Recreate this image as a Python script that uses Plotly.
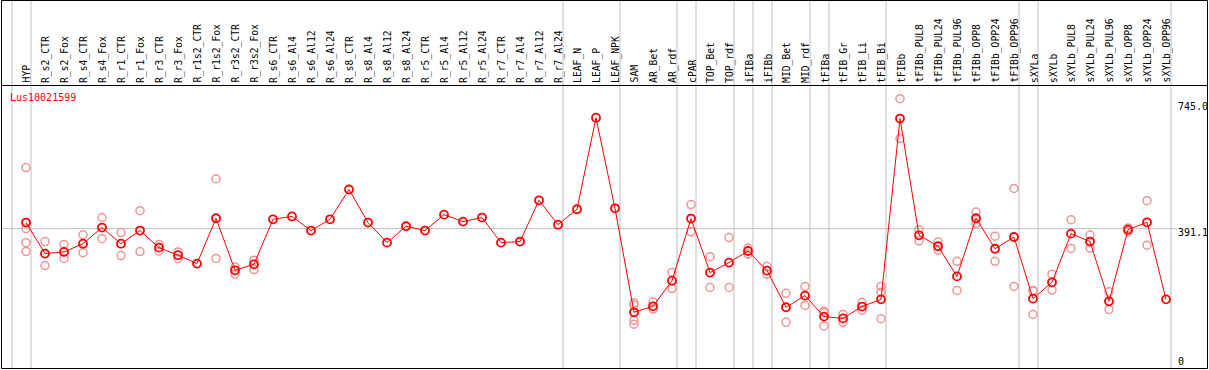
import plotly.graph_objects as go

W, H = 1209, 370

title = "Lus10021599"
categories = ["HYP", "R_s2_CTR", "R_s2_Fox", "R_s4_CTR", "R_s4_Fox", "R_r1_CTR", "R_r1_Fox",
              "R_r3_CTR", "R_r3_Fox", "R_r1s2_CTR", "R_r1s2_Fox", "R_r3s2_CTR", "R_r3s2_Fox",
              "R_s6_CTR", "R_s6_Al4", "R_s6_Al12", "R_s6_Al24", "R_s8_CTR", "R_s8_Al4", "R_s8_Al12",
              "R_s8_Al24", "R_r5_CTR", "R_r5_Al4", "R_r5_Al12", "R_r5_Al24", "R_r7_CTR", "R_r7_Al4",
              "R_r7_Al12", "R_r7_Al24", "LEAF_N", "LEAF_P", "LEAF_NPK", "SAM", "AR_Bet", "AR_rdf",
              "cPAR", "TOP_Bet", "TOP_rdf", "iFIBa", "iFIBb", "MID_Bet", "MID_rdf", "tFIBa",
              "tFIB_Gr", "tFIB_Li", "tFIB_Bi", "tFIBb", "tFIBb_PUL8", "tFIBb_PUL24", "tFIBb_PUL96",
              "tFIBb_OPP8", "tFIBb_OPP24", "tFIBb_OPP96", "sXYLa", "sXYLb", "sXYLb_PUL8",
              "sXYLb_PUL24", "sXYLb_PUL96", "sXYLb_OPP8", "sXYLb_OPP24", "sXYLb_OPP96"]

means = [408, 321.5, 326, 349, 394, 349, 385.6, 338, 317, 293.6, 420, 275, 291.7, 417, 425,
         385.6, 417, 500, 408, 352, 397.6, 385.6, 430, 410.6, 421.8, 352, 355, 470, 402, 445,
         700, 447.7, 158, 174.7, 246, 419, 268.6, 296.4, 328.7, 274, 172, 204.5, 146, 141, 174,
         194, 697.6, 372.5, 342, 258, 420, 335, 367.7, 196, 241.5, 377, 355, 188.6, 388, 408.7, 194]

replicates = [[561, 391, 352, 327], [355, 288], [347, 308], [374, 324], [422, 363], [380, 316],
              [441, 327], [347, 329], [326, 308], [], [530, 308], [284, 264], [303, 277],
              [], [], [], [], [], [], [], [], [], [], [], [], [], [], [], [], [], [], [],
              [184, 178, 136, 125], [187, 167], [269, 224], [458, 382], [313, 227], [366, 227],
              [337, 320], [286, 264], [211, 130], [230, 177], [161, 157, 120], [152, 130],
              [185, 164], [230, 214, 140], [753, 642], [388, 357], [354, 331], [300, 219],
              [437, 405], [370, 300], [503, 230], [219, 217, 152], [264, 220], [416, 336],
              [373, 337], [215, 166], [393, 383], [469, 345], []]

# group separators: after these column indices (-1 = before the first column)
separators_after = [-1, 0, 28, 31, 34, 35, 37, 38, 39, 41, 42, 45, 52, 53, 60]

y_labels = [745.0, 391.1, 0]
grid_value = 391.1

# geometry (pixels)
X0, DX = 26, 19
PLOT_TOP, PLOT_BOT = 85, 369
Y_MAX = (PLOT_BOT - PLOT_TOP) * 391.1 / (368.7 - 228.3)

FONT = "DejaVu Sans Mono"
RED = "#FF0000"
PINK = "rgb(236,150,150)"
GRAY = "#C0C0C0"

idx = list(range(len(categories)))
rx, ry = [], []
for i, reps in enumerate(replicates):
    for v in reps:
        rx.append(i)
        ry.append(v)

fig = go.Figure()
fig.add_trace(go.Scatter(x=rx, y=ry, mode="markers",
                         marker=dict(symbol="circle-open", size=8, color=PINK,
                                     line=dict(width=1.5, color=PINK)),
                         hoverinfo="skip", showlegend=False))
fig.add_trace(go.Scatter(x=idx, y=means, mode="lines+markers",
                         line=dict(color=RED, width=1),
                         marker=dict(symbol="circle-open", size=8, color=RED,
                                     line=dict(width=1.8, color=RED)),
                         showlegend=False))

def px(p):
    return p / W

def py(p):
    return 1 - p / H

shapes = []
# separators
for s in separators_after:
    xv = s + 5 / DX
    shapes.append(dict(type="line", xref="x", yref="paper", x0=xv, x1=xv, y0=py(PLOT_BOT), y1=1,
                       line=dict(color=GRAY, width=1), layer="below"))
# gridline
shapes.append(dict(type="line", xref="paper", yref="y", x0=px(1), x1=px(1177),
                   y0=grid_value, y1=grid_value, line=dict(color=GRAY, width=1), layer="below"))
# header line
shapes.append(dict(type="line", xref="paper", yref="paper", x0=px(1), x1=px(1208),
                   y0=py(85.5), y1=py(85.5), line=dict(color="black", width=1)))
# border
shapes.append(dict(type="rect", xref="paper", yref="paper", x0=px(1.5), x1=px(1207.5),
                   y0=py(368.5), y1=py(0.5), line=dict(color="black", width=1)))

annotations = []
for i, c in enumerate(categories):
    annotations.append(dict(x=i + 0.05, xref="x", y=py(83.5), yref="paper", text=c, textangle=-90,
                            showarrow=False, xanchor="center", yanchor="bottom",
                            font=dict(family=FONT, size=9.7, color="black"), borderpad=0))
annotations.append(dict(x=px(9), xref="paper", y=py(97), yref="paper", text=title,
                        showarrow=False, xanchor="left", yanchor="middle",
                        font=dict(family=FONT, size=10, color=RED), borderpad=0))
label_y_px = [106.7, 232.3, 361.7]
for v, ypx in zip(y_labels, label_y_px):
    t = "0" if v == 0 else f"{v:.1f}"
    annotations.append(dict(x=px(1177), xref="paper", y=py(ypx), yref="paper", text=t,
                            showarrow=False, xanchor="left", yanchor="middle",
                            font=dict(family=FONT, size=10, color="black"), borderpad=0))

fig.update_layout(
    width=W, height=H, margin=dict(l=0, r=0, t=0, b=0),
    paper_bgcolor="white", plot_bgcolor="white",
    xaxis=dict(range=[-X0 / DX, (W - X0) / DX], domain=[0, 1], visible=False, fixedrange=True),
    yaxis=dict(range=[0, Y_MAX], domain=[1 - PLOT_BOT / H, 1 - PLOT_TOP / H], visible=False,
               fixedrange=True),
    shapes=shapes, annotations=annotations, showlegend=False,
)

fig.write_html("out.html", post_script="document.body.style.margin='0';",
               config={"displayModeBar": False})
